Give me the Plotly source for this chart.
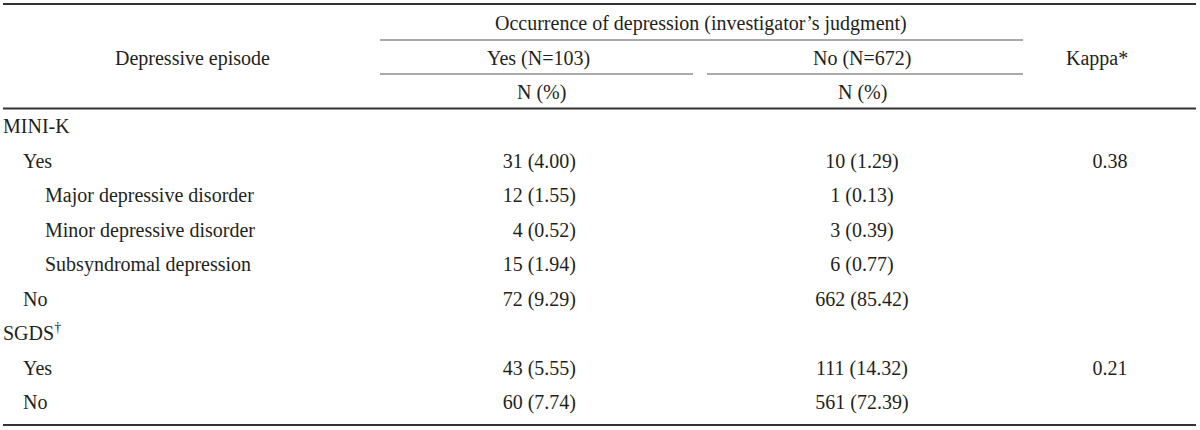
import plotly.graph_objects as go

# ---------------- data ----------------
row_labels = ["MINI-K", "Yes", "Major depressive disorder", "Minor depressive disorder",
              "Subsyndromal depression", "No", "SGDS<sup>†</sup>", "Yes", "No"]
row_levels = [0, 1, 2, 2, 2, 1, 0, 1, 1]
yes_col = ["", "31 (4.00)", "12 (1.55)", "4 (0.52)", "15 (1.94)", "72 (9.29)", "",
           "43 (5.55)", "60 (7.74)"]
no_col = ["", "10 (1.29)", "1 (0.13)", "3 (0.39)", "6 (0.77)", "662 (85.42)", "",
          "111 (14.32)", "561 (72.39)"]
kappa_col = ["", "0.38", "", "", "", "", "", "0.21", ""]

header_stub = "Depressive episode"
header_group = "Occurrence of depression (investigator’s judgment)"
header_yes = "Yes (N=103)"
header_no = "No (N=672)"
header_unit = "N (%)"
header_kappa = "Kappa*"

# ---------------- layout constants ----------------
W, H = 1200, 430
FONT = "Liberation Serif"
FS = 20
TXT = "#231f20"
ROW0, ROWSTEP = 128, 34.5
INDENT = [3, 23, 45]
X_YES_RIGHT = 576
X_NO = 862
X_KAPPA = 1110

row_y = [ROW0 + ROWSTEP * i for i in range(len(row_labels))]

fig = go.Figure()

def text_trace(xs, ys, texts, pos):
    keep = [i for i, t in enumerate(texts) if t]
    fig.add_trace(go.Scatter(
        x=[xs[i] for i in keep], y=[ys[i] for i in keep], text=[texts[i] for i in keep],
        mode="text", textposition=pos,
        textfont=dict(family=FONT, size=FS, color=TXT),
        hoverinfo="skip", showlegend=False, cliponaxis=False))

# stub column (left aligned with indentation)
text_trace([INDENT[l] for l in row_levels], row_y, row_labels, "middle right")
# Yes column (right aligned)
text_trace([X_YES_RIGHT] * len(yes_col), row_y, yes_col, "middle left")
# No column (centered)
text_trace([X_NO] * len(no_col), row_y, no_col, "middle center")
# Kappa column (centered)
text_trace([X_KAPPA] * len(kappa_col), row_y, kappa_col, "middle center")

# header annotations
def ann(x, y, t, xanchor="center"):
    fig.add_annotation(x=x, y=y, text=t, showarrow=False, xanchor=xanchor, yanchor="middle",
                       font=dict(family=FONT, size=FS, color=TXT))

ann(192, 58, header_stub)
ann(701, 23, header_group)
ann(538, 58, header_yes)
ann(862, 58, header_no)
ann(541, 92, header_unit)
ann(862, 92, header_unit)
ann(1097, 58, header_kappa)

# rules
def rule(x0, x1, y, w, c):
    fig.add_shape(type="line", x0=x0, x1=x1, y0=y, y1=y, xref="x", yref="y",
                  line=dict(color=c, width=w))

rule(3, 1196, 4, 2, "#333333")
rule(3, 1196, 108.5, 2, "#333333")
rule(3, 1196, 425, 2, "#333333")
rule(380, 1023, 40, 1, "#555555")
rule(380, 693, 74, 1, "#555555")
rule(707, 1023, 74, 1, "#555555")

fig.update_xaxes(range=[0, W], visible=False, fixedrange=True)
fig.update_yaxes(range=[H, 0], visible=False, fixedrange=True)
fig.update_layout(width=W, height=H, margin=dict(l=0, r=0, t=0, b=0),
                  plot_bgcolor="white", paper_bgcolor="white")

fig.write_html("out.html", config={"displayModeBar": False},
               post_script="document.body.style.margin='0';document.body.style.overflow='hidden';")
